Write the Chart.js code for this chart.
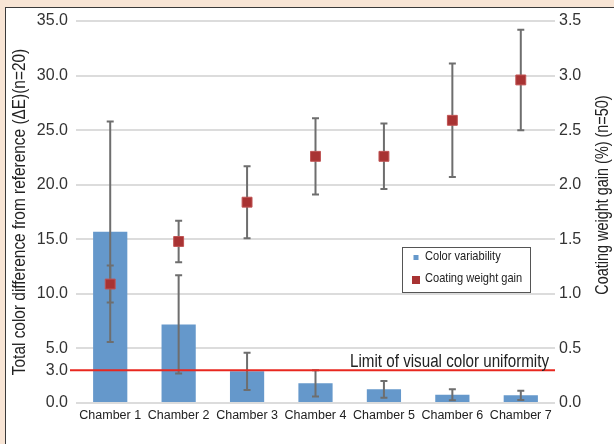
<!DOCTYPE html>
<html><head><meta charset="utf-8">
<script src="https://cdn.jsdelivr.net/npm/chart.js@4.4.1/dist/chart.umd.min.js"></script>
<style>
html,body{margin:0;padding:0;}
body{width:614px;height:444px;background:#f8e5d5;position:relative;overflow:hidden;}
#panel{position:absolute;left:5px;top:7px;right:0;bottom:0;background:#fff;border-left:1px solid #3a3a3a;border-top:1px solid #3a3a3a;}
#wrap{position:absolute;left:0;top:0;width:614px;height:444px;}
</style></head><body>
<div id="panel"></div>
<div id="wrap"><canvas id="c" width="614" height="444"></canvas></div>
<script>
const categories = ['Chamber 1','Chamber 2','Chamber 3','Chamber 4','Chamber 5','Chamber 6','Chamber 7'];
const colorVariability = [15.7, 7.2, 2.9, 1.8, 1.25, 0.75, 0.7];
const colorVariabilityErr = [10.1, 4.5, 1.7, 1.2, 0.77, 0.5, 0.42];
const coatingGain = [1.09, 1.48, 1.84, 2.26, 2.26, 2.59, 2.96];
const coatingGainErr = [0.17, 0.19, 0.33, 0.35, 0.30, 0.52, 0.46];
const leftTicks = [0, 3, 5, 10, 15, 20, 25, 30, 35];
const rightTicks = [0, 0.5, 1.0, 1.5, 2.0, 2.5, 3.0, 3.5];
const limitValue = 3;
const limitLabel = 'Limit of visual color uniformity';
const leftTitle = 'Total color difference from reference (\u0394E)(n=20)';
const rightTitle = 'Coating weight gain (%) (n=50)';
const seriesNames = ['Color variability', 'Coating weight gain'];

const FONT = "'Liberation Sans',Arial,sans-serif";
const NARROW = 0.82;
const BAR_COLOR = '#6598cb';
const PT_COLOR = '#a83333';
const ERR_COLOR = '#6e6e6e';

function drawErr(ctx, xs, ys, vals, errs){
  ctx.strokeStyle = ERR_COLOR; ctx.lineWidth = 2;
  vals.forEach((v,i)=>{
    const px = xs.getPixelForValue(i);
    const t = ys.getPixelForValue(v+errs[i]);
    const b = ys.getPixelForValue(Math.max(v-errs[i],0));
    ctx.beginPath();
    ctx.moveTo(px,t); ctx.lineTo(px,b);
    ctx.moveTo(px-3.5,t); ctx.lineTo(px+3.5,t);
    ctx.moveTo(px-3.5,b); ctx.lineTo(px+3.5,b);
    ctx.stroke();
  });
}

// draw condensed text (narrow look) at x,y
function narrowText(ctx, text, x, y, size, align, rot){
  ctx.save();
  ctx.translate(x,y);
  if(rot) ctx.rotate(rot);
  ctx.scale(NARROW,1);
  ctx.font = size+'px '+FONT;
  ctx.textAlign = align;
  ctx.fillText(text,0,0);
  ctx.restore();
}

const overlay = {
  id:'overlay',
  beforeDatasetDraw(chart, args){
    if(args.index!==1) return;
    const ctx=chart.ctx, xs=chart.scales.x, yL=chart.scales.y, yR=chart.scales.y1, ca=chart.chartArea;
    ctx.save();
    drawErr(ctx, xs, yL, colorVariability, colorVariabilityErr);
    const yy = yL.getPixelForValue(limitValue);
    ctx.strokeStyle='#e8271f'; ctx.lineWidth=2;
    ctx.beginPath(); ctx.moveTo(ca.left-6,yy); ctx.lineTo(ca.right,yy); ctx.stroke();
    ctx.fillStyle='#222'; ctx.textBaseline='alphabetic';
    narrowText(ctx, limitLabel, ca.right-6, yy-3, 18.5, 'right');
    drawErr(ctx, xs, yR, coatingGain, coatingGainErr);
    ctx.restore();
  },
  afterDraw(chart){
    const ctx=chart.ctx, ca=chart.chartArea;
    ctx.save();
    ctx.fillStyle='#222'; ctx.textBaseline='middle';
    narrowText(ctx, leftTitle, 20, (ca.top+ca.bottom)/2, 18.8, 'center', -Math.PI/2);
    narrowText(ctx, rightTitle, 603, 195, 17.6, 'center', -Math.PI/2);
    // legend
    ctx.fillStyle='#fff'; ctx.fillRect(402,247,128,45);
    ctx.strokeStyle='#555'; ctx.lineWidth=1; ctx.strokeRect(402.5,247.5,128,45);
    ctx.fillStyle=BAR_COLOR; ctx.fillRect(413.5,255,5,5);
    ctx.fillStyle=PT_COLOR; ctx.fillRect(412,276,8,8);
    ctx.fillStyle='#222'; ctx.textBaseline='middle';
    narrowText(ctx, seriesNames[0], 425, 256, 13.5, 'left');
    narrowText(ctx, seriesNames[1], 425, 278, 13.5, 'left');
    ctx.restore();
  }
};

new Chart(document.getElementById('c'), {
  data:{
    labels: categories,
    datasets:[
      {type:'bar', label:seriesNames[0], data:colorVariability, yAxisID:'y', backgroundColor:BAR_COLOR,
       barPercentage:0.5, categoryPercentage:1, order:1},
      {type:'line', label:seriesNames[1], data:coatingGain, yAxisID:'y1', showLine:false,
       pointStyle:'rect', pointRadius:7, pointHoverRadius:7, backgroundColor:PT_COLOR, borderColor:'#c05454', borderWidth:1, order:0}
    ]
  },
  options:{
    responsive:false, animation:false,
    layout:{padding:{top:21,left:0,right:0,bottom:0}},
    plugins:{legend:{display:false}, tooltip:{enabled:false}},
    scales:{
      x:{grid:{display:false, drawTicks:false}, border:{display:false},
         ticks:{font:{family:FONT,size:12.5}, color:'#222', padding:5, maxRotation:0, autoSkip:false},
         afterFit(s){ s.height=41; }},
      y:{position:'left', min:0, max:35,
         afterBuildTicks(s){ s.ticks = leftTicks.map(v=>({value:v})); },
         ticks:{font:{family:FONT,size:16}, color:'#333', padding:8, callback:v=>Number(v).toFixed(1)},
         grid:{color:c=>c.tick && c.tick.value===limitValue?'rgba(0,0,0,0)':'#dcdcdc', lineWidth:2, drawTicks:false},
         border:{display:false},
         afterFit(s){ s.width=76; }},
      y1:{position:'right', min:0, max:3.5,
         afterBuildTicks(s){ s.ticks = rightTicks.map(v=>({value:v})); },
         ticks:{font:{family:FONT,size:16}, color:'#333', padding:4, callback:v=>Number(v).toFixed(1)},
         grid:{display:false, drawTicks:false}, border:{display:false},
         afterFit(s){ s.width=59; }}
    }
  },
  plugins:[overlay]
});
</script>
</body></html>
